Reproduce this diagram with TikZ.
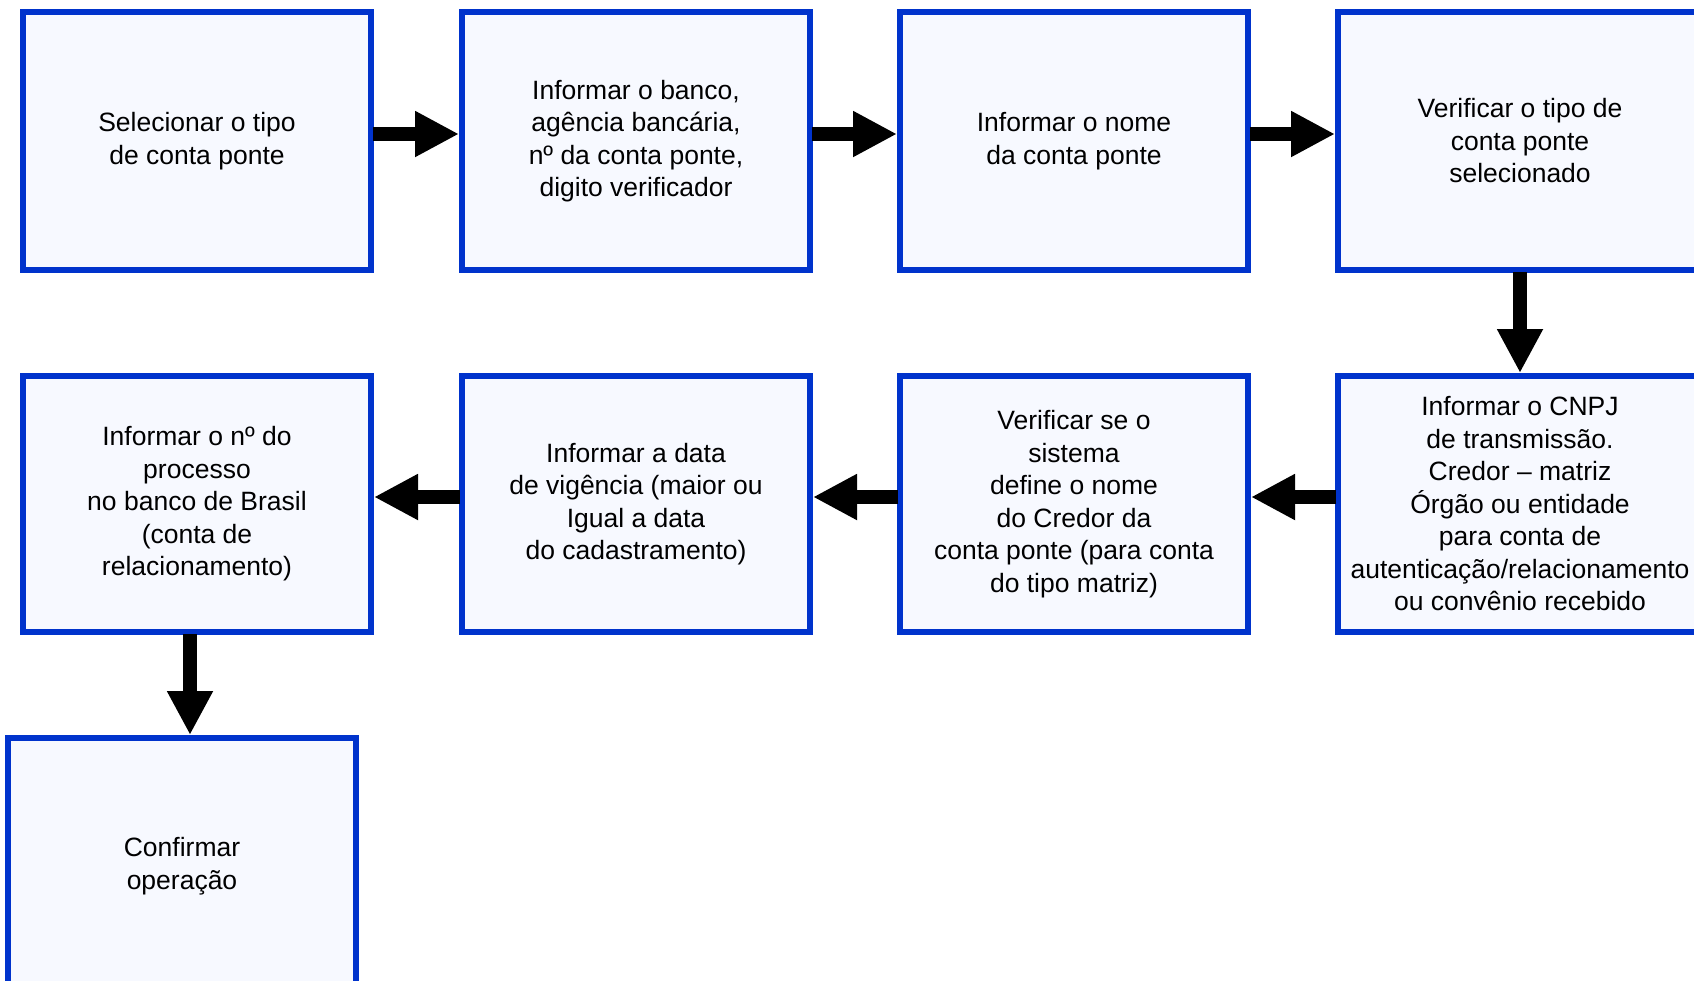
\documentclass[tikz,border=0pt]{standalone}
\usepackage{fontspec}
\setmainfont{Liberation Sans}
\usetikzlibrary{arrows.meta}
\definecolor{boxblue}{HTML}{0033CC}
\definecolor{boxfill}{HTML}{F7F9FF}
\tikzset{
  stepbox/.style={draw=boxblue, fill=boxfill, line width=6pt, minimum width=348pt, minimum height=258pt, inner sep=0pt, align=center, font=\fontsize{26.5}{32.5}\selectfont},
  widebox/.style={stepbox, minimum width=364pt},
  flow/.style={line width=14pt, -{Triangle[length=44pt, width=43pt]}, shorten <=-1pt}
}
\begin{document}
\begin{tikzpicture}[x=1pt, y=-1pt]
\useasboundingbox (0,0) rectangle (1694,980);
\clip (0,0) rectangle (1694,980);
% row 1
\node[stepbox] (a1) at (197,141) {Selecionar o tipo\\de conta ponte};
\node[stepbox] (a2) at (636,141) {Informar o banco,\\agência bancária,\\nº da conta ponte,\\digito verificador};
\node[stepbox] (a3) at (1074,141) {Informar o nome\\da conta ponte};
\node[widebox] (a4) at (1520,141) {Verificar o tipo de\\conta ponte\\selecionado};
% row 2
\node[widebox, minimum height=256pt] (b4) at (1520,504) {Informar o CNPJ\\de transmissão.\\Credor – matriz\\Órgão ou entidade\\para conta de\\autenticação/relacionamento\\ou convênio recebido};
\node[stepbox, minimum height=256pt] (b3) at (1074,504) {Verificar se o\\sistema\\define o nome\\do Credor da\\conta ponte (para conta\\do tipo matriz)};
\node[stepbox, minimum height=256pt] (b2) at (636,504) {Informar a data\\de vigência (maior ou\\Igual a data\\do cadastramento)};
\node[stepbox, minimum height=256pt] (b1) at (197,504) {Informar o nº do\\processo\\no banco de Brasil\\(conta de\\relacionamento)};
% row 3
\node[stepbox, minimum height=256pt] (c1) at (182,866) {Confirmar\\operação};
% connectors
\draw[flow] ([yshift=7pt]a1.east) -- ([yshift=7pt]a2.west);
\draw[flow] ([yshift=7pt]a2.east) -- ([yshift=7pt]a3.west);
\draw[flow] ([yshift=7pt]a3.east) -- ([yshift=7pt]a4.west);
\draw[flow] (a4.south) -- (b4.north);
\draw[flow] ([yshift=7pt]b4.west) -- ([yshift=7pt]b3.east);
\draw[flow] ([yshift=7pt]b3.west) -- ([yshift=7pt]b2.east);
\draw[flow] ([yshift=7pt]b2.west) -- ([yshift=7pt]b1.east);
\draw[flow] ([xshift=-7pt]b1.south) -- ([xshift=8pt]c1.north);
\end{tikzpicture}
\end{document}
